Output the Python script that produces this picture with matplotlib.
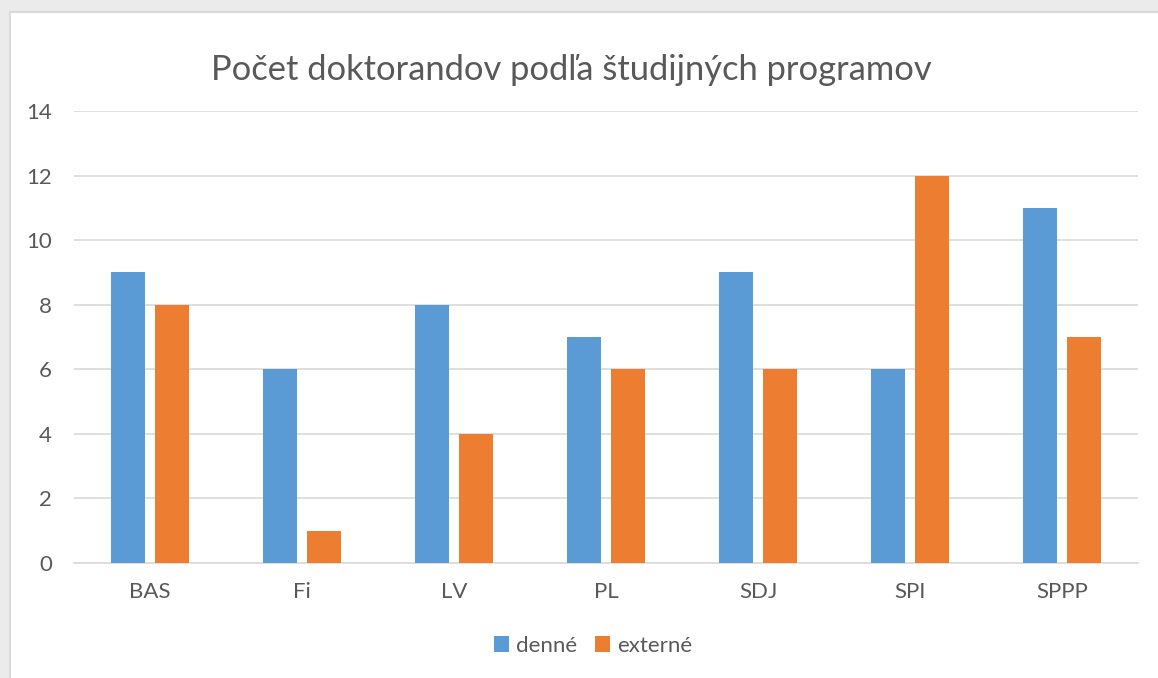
import matplotlib.pyplot as plt
import numpy as np
from matplotlib.patches import Rectangle

plt.rcParams["font.family"] = ["Lato", "DejaVu Sans"]

programy = ["BAS", "Fi", "LV", "PL", "SDJ", "SPI", "SPPP"]
denne = [9, 6, 8, 7, 9, 6, 11]
externe = [8, 1, 4, 6, 6, 12, 7]

modra = "#5B9BD5"
oranzova = "#ED7D31"
seda_text = "#595959"
seda_mriezka = "#D9D9D9"

fig = plt.figure(figsize=(11.58, 6.78), dpi=100, facecolor="#EBEBEB")
# biela plocha grafu s jemnym okrajom
fig.patches.append(Rectangle((10 / 1158, -0.01), 1.02, (678 - 12) / 678 + 0.01,
                             transform=fig.transFigure, facecolor="white",
                             edgecolor=seda_mriezka, linewidth=1.5, zorder=-5))

ax = fig.add_axes([74 / 1158, 1 - 563 / 678, 1064 / 1158, 452 / 678])
ax.set_facecolor("none")

x = np.arange(len(programy))
sirka = 0.224
ax.bar(x - 0.144, denne, sirka, color=modra, zorder=3, label="denné")
ax.bar(x + 0.144, externe, sirka, color=oranzova, zorder=3, label="externé")

ax.set_xlim(-0.5, len(programy) - 0.5)
ax.set_ylim(0, 14)
ax.set_yticks(range(0, 15, 2))
ax.set_xticks(x, programy)
ax.grid(axis="y", color=seda_mriezka, linewidth=1.2, zorder=0)
for s in ["top", "right", "left"]:
    ax.spines[s].set_visible(False)
ax.spines["bottom"].set_color(seda_mriezka)
ax.spines["bottom"].set_linewidth(1.2)
ax.tick_params(length=0, colors=seda_text, labelsize=16)
ax.tick_params(axis="y", pad=16)
ax.tick_params(axis="x", pad=14)

fig.text(571 / 1158, 1 - 70 / 678, "Počet doktorandov podľa študijných programov",
         ha="center", va="center", fontsize=24.8, color=seda_text)

fig.legend(loc="center", bbox_to_anchor=(593 / 1158, 1 - 646 / 678), ncol=2,
           frameon=False, fontsize=16, labelcolor=seda_text,
           handlelength=0.7, handleheight=0.7, handletextpad=0.3, columnspacing=0.8)

plt.savefig("out.png", dpi=100, facecolor=fig.get_facecolor())
